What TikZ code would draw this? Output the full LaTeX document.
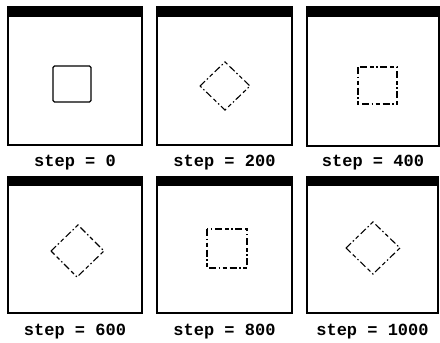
\documentclass[tikz,border=0pt]{standalone}
\usepackage{fontspec}
\setmonofont{Liberation Mono}
\begin{document}
\begin{tikzpicture}[x=1pt,y=-1pt,
  frame/.style={draw=black,line width=1.6pt,fill=white},
  bar/.style={fill=black},
  steplabel/.style={font=\ttfamily\bfseries\fontsize{17}{19}\selectfont,anchor=center,inner sep=0pt},
  solidsq/.style={draw=black,line width=1.3pt,rounded corners=1.5pt},
  dashsq/.style={draw=black,line width=1.1pt,dash pattern=on 7pt off 2.5pt on 1.5pt off 2.5pt on 4pt off 3pt}]
\useasboundingbox (0,0) rectangle (440,343);
\fill[white] (0,0) rectangle (440,343);
\foreach \n/\l/\r/\t/\b/\bb in {p1/8/142/7/145/17, p2/157/292/7/145/17, p3/307/439/7/146/17,
  p4/8/142/177/313/186, p5/157/292/177/313/186, p6/307/438/177/313/186}{
  \draw[frame] (\l,\t) rectangle (\r,\b);
  \fill[bar] (\l-0.8,\t-0.8) rectangle (\r+0.8,\bb);
  \coordinate (\n) at ({(\l+\r)/2},\b);
}
\draw[solidsq] (53,66) rectangle (91,102);
\draw[dashsq] (200,86) -- (225,62) -- (250,86) -- (225,110) -- cycle;
\draw[dashsq] (358,67) rectangle (397,104);
\draw[dashsq] (51,251) -- (78,225) -- (104,251) -- (77,277) -- cycle;
\draw[dashsq] (207,229) rectangle (247,268);
\draw[dashsq] (346,248) -- (373,222) -- (400,248) -- (373,274) -- cycle;
\node[steplabel] (l1) at ([yshift=-18pt]p1) {step = 0};
\node[steplabel] (l2) at ([yshift=-18pt]p2) {step = 200};
\node[steplabel] (l3) at ([yshift=-17pt]p3) {step = 400};
\node[steplabel] (l4) at ([yshift=-19pt]p4) {step = 600};
\node[steplabel] (l5) at ([yshift=-19pt]p5) {step = 800};
\node[steplabel] (l6) at ([yshift=-19pt]p6) {step = 1000};
\end{tikzpicture}
\end{document}
